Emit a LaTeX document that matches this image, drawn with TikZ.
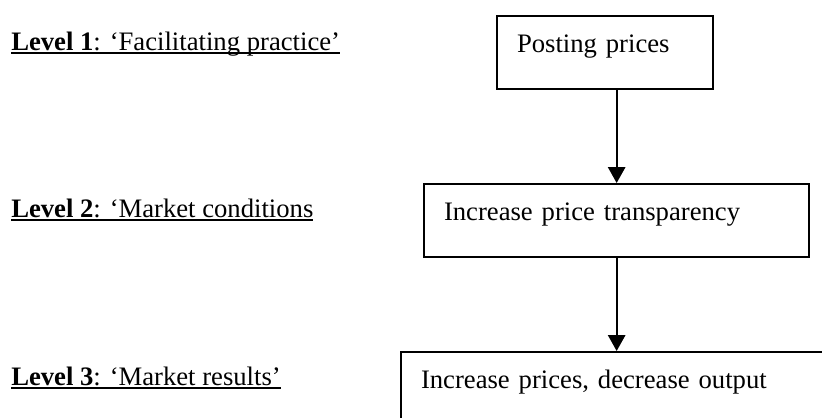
\documentclass[tikz,border=0pt]{standalone}
\usepackage{fontspec}
\setmainfont{Liberation Serif}
\usepackage{tikz}
\usetikzlibrary{arrows.meta,positioning}
\definecolor{Ink}{HTML}{000000}
\newcommand{\lvlul}[1]{\setbox0\hbox{#1}\rlap{\rule[-3.2pt]{\wd0}{1.5pt}}\box0}
\tikzset{
  >={Triangle[width=13pt,length=12pt]},
  stage/.style={rectangle,draw=Ink,line width=1.5pt,anchor=north west,inner xsep=15pt,inner ysep=0pt,align=left,font=\fontsize{20}{24}\selectfont},
  flow/.style={->,line width=1.5pt,draw=Ink},
  lvl/.style={anchor=base west,inner sep=0pt,font=\fontsize{20}{24}\selectfont}
}
\begin{document}
\begin{tikzpicture}[x=.75pt,y=-.75pt]
        \useasboundingbox (0,0) rectangle (822,418);
        \clip (0,0) rectangle (822,418);

        \node[lvl] (l1) at (11,50) {\lvlul{\textbf{Level 1}: `Facilitating practice'}};
        \node[lvl] (l2) at (11,217) {\lvlul{\textbf{Level 2}: `Market conditions}};
        \node[lvl] (l3) at (11,385) {\lvlul{\textbf{Level 3}: `Market results'}};

        \node[stage,text width=132pt,text height=27.5pt,text depth=27pt] (post) at (496,15) {Posting prices};
        \node[stage,text width=259pt,text height=27pt,text depth=27.5pt] (transp) at (423,183) {Increase price transparency};
        \node[stage,text width=315pt,text height=27pt,text depth=28pt] (result) at (400,351) {Increase prices, decrease output};

        \draw[flow] (post.south -| transp.north)--(transp.north);
        \draw[flow] (transp.south)--(transp.south |- result.north);
      \end{tikzpicture}
\end{document}
